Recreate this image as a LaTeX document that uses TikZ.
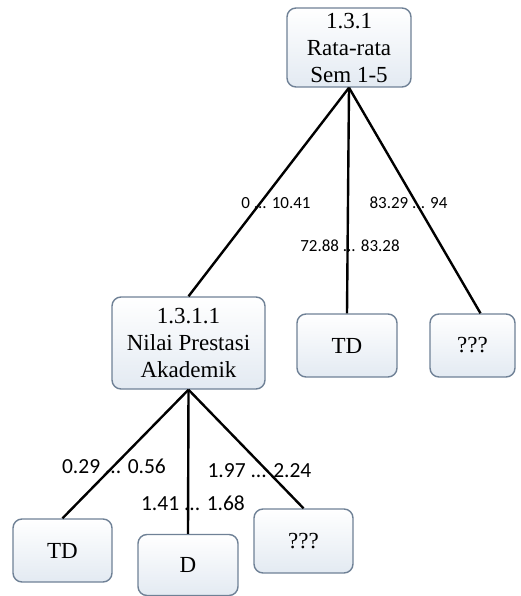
\documentclass[tikz,border=0pt]{standalone}
\usepackage{fontspec}
\setmainfont{Liberation Serif}
\newfontfamily\labelfont{Carlito}
\definecolor{boxline}{HTML}{6F8196}
\definecolor{boxfill}{HTML}{E3EAF2}
\begin{document}
\begin{tikzpicture}[x=1pt,y=-1pt,
  box/.style={draw=boxline, line width=1.4pt, rounded corners=9pt,
    top color=white, bottom color=boxfill, inner sep=0pt, align=center,
    font=\fontsize{23}{27}\selectfont},
  conn/.style={draw=black, line width=2.4pt},
  edgelbl/.style={inner sep=0pt, font=\labelfont\fontsize{17}{20}\selectfont},
  edgelblbig/.style={inner sep=0pt, font=\labelfont\fontsize{21.5}{24}\selectfont}]
\useasboundingbox (0,0) rectangle (520,596);

% tree nodes
\node[box, minimum width=124pt, minimum height=79pt] (top) at (349,47.5) {1.3.1\\Rata-rata\\Sem 1-5};
\node[box, minimum width=153pt, minimum height=92pt] (n1) at (188.5,343) {1.3.1.1\\Nilai Prestasi\\Akademik};
\node[box, minimum width=100pt, minimum height=63pt] (td1) at (347,345.5) {TD};
\node[box, minimum width=85pt, minimum height=63pt] (q1) at (472.5,345.5) {???};
\node[box, minimum width=99pt, minimum height=63pt] (td2) at (62.5,550.5) {TD};
\node[box, minimum width=100pt, minimum height=61pt] (d) at (188,565) {D};
\node[box, minimum width=99pt, minimum height=64pt] (q2) at (303.5,541) {???};

% branches
\draw[conn] (top.south) -- (n1.north);
\draw[conn] (top.south) -- (td1.north);
\draw[conn] (top.south) -- ([xshift=8pt]q1.north);
\draw[conn] (n1.south) -- (td2.north);
\draw[conn] (n1.south) -- (d.north);
\draw[conn] (n1.south) -- (q2.north);

% branch labels
\node[edgelbl] (l1) at (276,203) {0 ... 10.41};
\node[edgelbl] (l2) at (350,246) {72.88 ... 83.28};
\node[edgelbl] (l3) at (408.5,203) {83.29 ... 94};
\node[edgelblbig] (l4) at (114,466) {0.29 ... 0.56};
\node[edgelblbig] (l5) at (193,503) {1.41 ... 1.68};
\node[edgelblbig] (l6) at (259.5,471) {1.97 ... 2.24};
\end{tikzpicture}
\end{document}
